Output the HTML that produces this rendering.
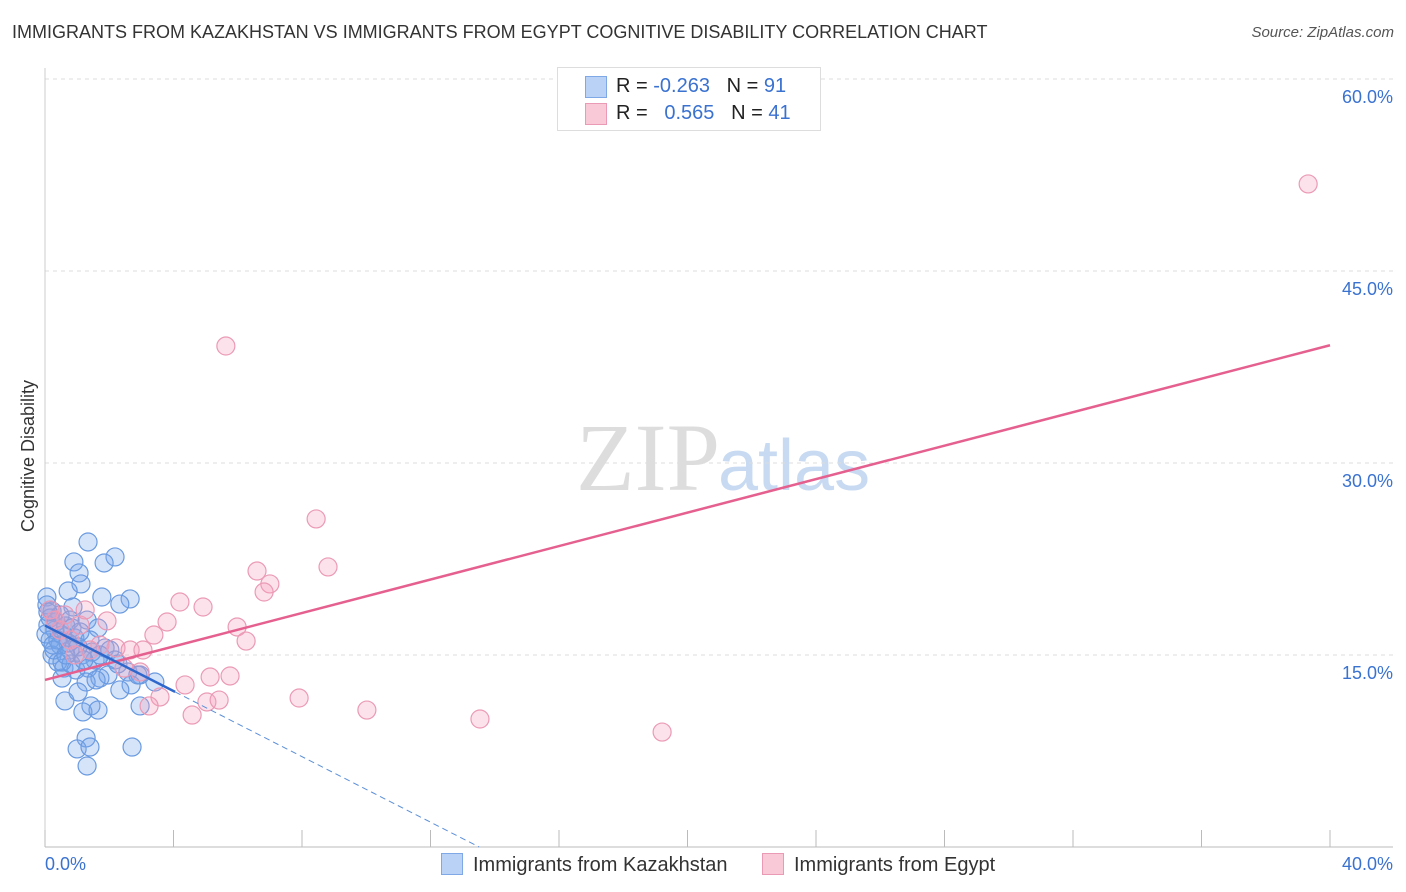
<!DOCTYPE html>
<html><head><meta charset="utf-8">
<style>
body{margin:0;background:#fff;font-family:"Liberation Sans",sans-serif;}
#wrap{position:relative;width:1406px;height:892px;overflow:hidden;}
.title{position:absolute;left:12px;top:22px;font-size:18px;color:#333;}
.src{position:absolute;right:12px;top:24px;font-size:15px;color:#555;font-style:italic;}
</style></head><body>
<div id="wrap">
<div class="title">IMMIGRANTS FROM KAZAKHSTAN VS IMMIGRANTS FROM EGYPT COGNITIVE DISABILITY CORRELATION CHART</div>
<div class="src">Source: ZipAtlas.com</div>
<svg id="svg" width="1406" height="892" style="position:absolute;left:0;top:0">
<text x="720" y="490" font-family="Liberation Serif" font-size="96" fill="#ddd" text-anchor="end">ZIP</text>
<text x="718" y="490" font-family="Liberation Sans" font-size="72" fill="#c8daf2">atlas</text>
<text x="34" y="456" transform="rotate(-90 34 456)" font-size="18" fill="#333" text-anchor="middle">Cognitive Disability</text>
</svg>
<div style="position:absolute;left:557px;top:67px;width:262px;height:62px;border:1px solid #ddd;background:#fff;font-size:20px;color:#222">
 <div style="position:absolute;left:27px;top:8px;width:20px;height:20px;background:#b9d2f5;border:1px solid #7ea8e6"></div>
 <div style="position:absolute;left:58px;top:7px">R = <span style="color:#3a72d0">-0.263</span>&nbsp;&nbsp;&nbsp;N = <span style="color:#3a72d0">91</span></div>
 <div style="position:absolute;left:27px;top:35px;width:20px;height:20px;background:#f9c9d7;border:1px solid #ea9ab4"></div>
 <div style="position:absolute;left:58px;top:34px">R = &nbsp;&nbsp;<span style="color:#3a72d0">0.565</span>&nbsp;&nbsp;&nbsp;N = <span style="color:#3a72d0">41</span></div>
</div>
<div style="position:absolute;left:441px;top:853px;font-size:20px;color:#333"><span style="display:inline-block;width:20px;height:20px;background:#b9d2f5;border:1px solid #7ea8e6;vertical-align:-4px;margin-right:10px"></span>Immigrants from Kazakhstan</div>
<div style="position:absolute;left:762px;top:853px;font-size:20px;color:#333"><span style="display:inline-block;width:20px;height:20px;background:#f9c9d7;border:1px solid #ea9ab4;vertical-align:-4px;margin-right:10px"></span>Immigrants from Egypt</div>
</div>
<script>
const yTicks=[15,30,45,60];
const xTickLabels=["0.0%","40.0%"];
const blueX=[1.34,0.90,2.18,1.84,1.06,1.12,0.72,1.77,2.65,2.33,0.87,0.06,0.22,0.47,0.78,1.31,1.65,0.09,0.31,0.53,0.93,1.40,1.87,0.16,0.47,0.78,1.15,1.56,2.02,2.18,0.22,0.40,0.59,0.96,1.34,1.71,1.96,2.58,2.96,3.42,0.53,1.28,1.59,2.68,0.62,1.03,1.43,1.18,1.65,2.96,1.28,1.00,1.40,2.71,1.31,0.06,0.16,0.34,0.65,0.84,1.09,0.03,0.40,0.72,1.03,1.46,1.71,0.28,0.53,0.81,1.21,2.27,2.89,2.33,0.09,0.25,0.65];
const blueY=[23.83,22.27,22.66,22.19,21.41,20.55,20.0,19.53,19.38,18.98,18.75,19.53,18.44,18.13,17.73,17.73,17.11,17.34,16.95,16.56,16.33,16.17,15.55,16.17,15.78,15.39,15.0,14.61,15.39,14.61,15.0,14.45,13.98,13.83,13.98,13.20,13.44,13.67,13.44,12.89,13.20,12.89,13.05,12.66,11.41,12.11,11.02,10.55,10.70,11.02,8.52,7.66,7.81,7.81,6.33,18.91,17.89,17.58,17.27,17.11,16.80,16.64,16.17,15.94,15.63,15.23,15.0,15.39,14.45,14.30,14.61,14.30,13.44,12.27,18.36,15.78,15.0];
const pinkX=[39.32,5.63,8.44,8.81,6.60,7.00,6.82,4.20,4.92,1.93,3.80,5.98,3.39,6.26,2.21,2.65,3.05,5.14,5.76,4.36,2.46,3.58,3.24,5.04,5.42,4.58,7.91,10.02,13.54,19.21,0.16,0.31,0.47,0.78,1.09,1.40,1.71,2.96,0.62,0.93,1.25];
const pinkY=[51.80,39.14,25.63,21.88,21.56,20.55,19.92,19.14,18.75,17.66,17.58,17.19,16.56,16.09,15.55,15.39,15.39,13.28,13.36,12.66,13.98,11.72,11.02,11.33,11.48,10.31,11.64,10.70,10.0,8.98,18.52,17.73,16.95,16.17,17.34,15.39,15.78,13.67,18.13,15.0,18.52];
const pinkTrend=[13.05,39.2];
const blueTrend=[17.3,-1.28];
const X=v=>45+v/40*1285, Y=v=>847-v*12.8;
const svg=document.getElementById('svg');const NS='http://www.w3.org/2000/svg';
function mk(t,a){const e=document.createElementNS(NS,t);for(const k in a)e.setAttribute(k,a[k]);svg.appendChild(e);return e;}
for(const t of yTicks){
 const g=mk('line',{x1:45,x2:1393,y1:Y(t),y2:Y(t),stroke:'#ddd','stroke-dasharray':'4,4'});
 
 
 const l=mk('text',{x:1393,y:Y(t)+24,'text-anchor':'end','font-size':18,fill:'#3a72d0'});l.textContent=t.toFixed(1)+'%';
 
 
}
const ax=mk('line',{x1:45,x2:45,y1:68,y2:847,stroke:'#ccc'});


const bx=mk('line',{x1:45,x2:1393,y1:847,y2:847,stroke:'#bbb'});


for(let i=0;i<=10;i++){const t=mk('line',{x1:X(i*4),x2:X(i*4),y1:830,y2:847,stroke:'#bbb'});
 
 }
[[0,45,'start'],[1,1393,'end']].forEach(([i,x,a])=>{const l=mk('text',{x:x,y:870,'text-anchor':a,'font-size':18,fill:'#3a72d0'});l.textContent=xTickLabels[i];
 
 });
blueX.forEach((v,i)=>{const c=mk('circle',{cx:X(v),cy:Y(blueY[i]),r:9,fill:'rgba(120,165,235,0.3)',stroke:'#6a9ae0','stroke-width':1.2});
 
 });
pinkX.forEach((v,i)=>{const c=mk('circle',{cx:X(v),cy:Y(pinkY[i]),r:9,fill:'rgba(245,160,190,0.3)',stroke:'#eb9ab5','stroke-width':1.2});
 
 });
const pl=mk('line',{x1:X(0),y1:Y(pinkTrend[0]),x2:X(40),y2:Y(pinkTrend[1]),stroke:'#e5608f','stroke-width':2.5});


const xz=-blueTrend[0]/blueTrend[1];
const bl=mk('line',{x1:X(0),y1:Y(blueTrend[0]),x2:X(4.05),y2:Y(blueTrend[0]+blueTrend[1]*4.05),stroke:'#2f68cc','stroke-width':2.5});


const bd=mk('line',{x1:X(4.05),y1:Y(blueTrend[0]+blueTrend[1]*4.05),x2:X(xz),y2:Y(0),stroke:'#5b8fd8','stroke-width':1,'stroke-dasharray':'6,4'});


</script>
</body></html>
